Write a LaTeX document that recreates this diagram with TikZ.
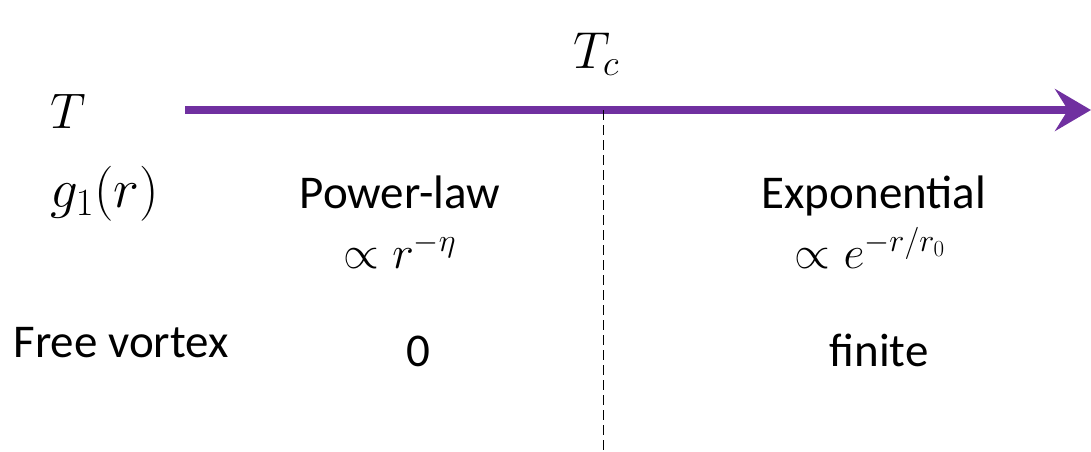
\RequirePackage{fix-cm}
\documentclass[tikz,border=0pt]{standalone}
\usepackage{fontspec}
\setmainfont{Carlito}
\usetikzlibrary{arrows.meta}
\definecolor{axispurple}{HTML}{7030A0}
\tikzset{
  lbl/.style={inner sep=0pt, font=\fontsize{47}{56}\selectfont},
  mathlbl/.style={inner sep=0pt, font=\fontsize{50}{60}\selectfont},
  axis/.style={draw=axispurple, line width=8pt, -{Stealth[length=36pt, width=42pt, inset=13pt]}},
  divider/.style={draw=black, line width=1pt, dash pattern=on 10pt off 5pt}
}
\begin{document}
\begin{tikzpicture}[x=1pt, y=-1pt]
\useasboundingbox (0,0) rectangle (1091,451);
\coordinate (axs) at (185,110);
\coordinate (axe) at (1091,110);
\draw[axis] (axs) -- (axe);
\coordinate (dtop) at (603,110);
\coordinate (dbot) at (603,451);
\draw[divider] (dtop) -- (dbot);
\node[mathlbl, font=\fontsize{52}{62}\selectfont, anchor=base] (tc) at (596,68) {$T_c$};
\node[mathlbl, anchor=base west] (t) at (50,128) {$T$};
\node[mathlbl, font=\fontsize{55}{66}\selectfont, anchor=base west] (g) at (50,207) {$g_1(r)$};
\node[lbl, anchor=base] (pl) at (400,208) {Power-law};
\node[lbl, font=\fontsize{46}{55}\selectfont, anchor=base] (plf) at (400,268) {$\propto r^{-\eta}$};
\node[lbl, anchor=base] (ex) at (874,208) {Exponential};
\node[lbl, font=\fontsize{46}{55}\selectfont, anchor=base] (exf) at (870,268) {$\propto e^{-r/r_0}$};
\node[lbl, anchor=base] (fv) at (121,357) {Free vortex};
\node[lbl, anchor=base] (zero) at (418,366) {0};
\node[lbl, anchor=base] (fin) at (879,366) {finite};
\end{tikzpicture}
\end{document}
